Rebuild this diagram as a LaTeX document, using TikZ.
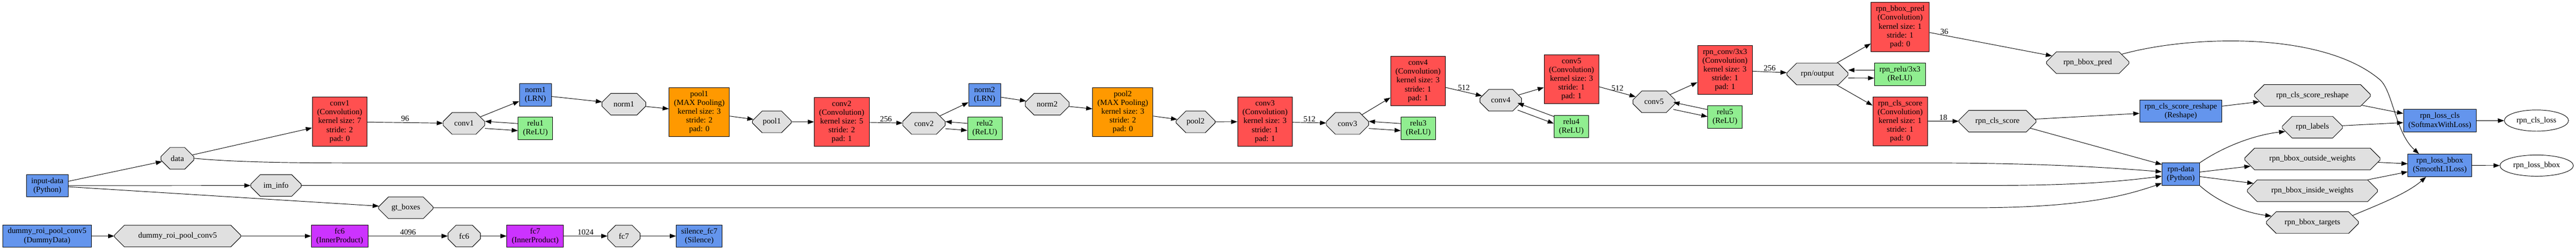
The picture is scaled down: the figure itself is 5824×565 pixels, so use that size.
\documentclass[tikz,border=0pt]{standalone}
\usepackage{fontspec}
\setmainfont{Liberation Serif}
\usetikzlibrary{arrows.meta,shapes.misc,shapes.geometric,calc}

\definecolor{layerblue}{HTML}{6495ED}
\definecolor{convred}{HTML}{FF5050}
\definecolor{poolorange}{HTML}{FF9900}
\definecolor{relugreen}{HTML}{90EE90}
\definecolor{fcpurple}{HTML}{CC33FF}
\definecolor{blobgray}{HTML}{E0E0E0}

\tikzset{
	every node/.style={font=\fontsize{18}{20}\selectfont, align=center, line width=1.1pt},
	layer/.style={draw, rectangle, fill=layerblue, minimum width=72pt, minimum height=51pt, inner xsep=11pt, inner ysep=0pt},
	conv/.style={layer, fill=convred, minimum height=111pt},
	pool/.style={conv, fill=poolorange},
	relu/.style={layer, fill=relugreen},
	fc/.style={layer, fill=fcpurple},
	blob/.style={draw, chamfered rectangle, fill=blobgray, inner sep=0pt, minimum width=#1pt, minimum height=49pt, chamfered rectangle xsep=0.293*#1pt, chamfered rectangle ysep=14pt},
	bout/.style={draw, ellipse, fill=white, inner sep=0pt, minimum width=#1pt, minimum height=48pt},
	arr/.style={-{Triangle[length=14pt,width=10pt]}, line width=1.1pt},
	lbl/.style={inner sep=2pt}
}

\begin{document}
\begin{tikzpicture}[x=1pt, y=-1pt]
	\useasboundingbox (0,0) rectangle (5824,565);
	% input and dummy branch
	\node[layer] (indata) at (107, 420.5) {input-data\\(Python)};
	\node[blob=74] (data) at (401, 358.5) {data};
	\node[blob=114] (iminfo) at (624, 420) {im\_info};
	\node[blob=123] (gtboxes) at (917.5, 470.5) {gt\_boxes};
	\node[layer] (dummy) at (106.5, 534.5) {dummy\_roi\_pool\_conv5\\(DummyData)};
	\node[blob=285] (dummyb) at (401.5, 534.5) {dummy\_roi\_pool\_conv5};
	\node[fc] (fc6) at (768, 534.5) {fc6\\(InnerProduct)};
	\node[blob=73] (fc6b) at (1049.5, 534.5) {fc6};
	\node[fc] (fc7) at (1210, 534.5) {fc7\\(InnerProduct)};
	\node[blob=73] (fc7b) at (1410.5, 534.5) {fc7};
	\node[layer] (silence) at (1581, 534.5) {silence\_fc7\\(Silence)};
	% conv trunk
	\node[conv] (conv1) at (768, 275.5) {conv1\\(Convolution)\\kernel size: 7\\stride: 2\\pad: 0};
	\node[blob=94] (conv1b) at (1049, 279.5) {conv1};
	\node[layer] (norm1) at (1210.5, 214.5) {norm1\\(LRN)};
	\node[relu] (relu1) at (1210.5, 290.5) {relu1\\(ReLU)};
	\node[blob=99] (norm1b) at (1410.5, 236) {norm1};
	\node[pool] (pool1) at (1581, 253.5) {pool1\\(MAX Pooling)\\kernel size: 3\\stride: 2\\pad: 0};
	\node[blob=88] (pool1b) at (1745, 276) {pool1};
	\node[conv] (conv2) at (1903, 276) {conv2\\(Convolution)\\kernel size: 5\\stride: 2\\pad: 1};
	\node[blob=96] (conv2b) at (2089, 279.5) {conv2};
	\node[layer] (norm2) at (2226, 214.5) {norm2\\(LRN)};
	\node[relu] (relu2) at (2226.5, 290.5) {relu2\\(ReLU)};
	\node[blob=99] (norm2b) at (2367.5, 236) {norm2};
	\node[pool] (pool2) at (2538.5, 253.5) {pool2\\(MAX Pooling)\\kernel size: 3\\stride: 2\\pad: 0};
	\node[blob=88] (pool2b) at (2703, 276) {pool2};
	\node[conv] (conv3) at (2860, 275.5) {conv3\\(Convolution)\\kernel size: 3\\stride: 1\\pad: 1};
	\node[blob=95] (conv3b) at (3046.5, 279.5) {conv3};
	\node[conv] (conv4) at (3206, 183.5) {conv4\\(Convolution)\\kernel size: 3\\stride: 1\\pad: 1};
	\node[relu] (relu3) at (3206.5, 290.5) {relu3\\(ReLU)};
	\node[blob=94] (conv4b) at (3393, 227) {conv4};
	\node[conv] (conv5) at (3553, 179.5) {conv5\\(Convolution)\\kernel size: 3\\stride: 1\\pad: 1};
	\node[relu] (relu4) at (3552.5, 286.5) {relu4\\(ReLU)};
	\node[blob=95] (conv5b) at (3739.5, 230.5) {conv5};
	\node[conv] (rpnconv) at (3900, 158.5) {rpn\_conv/3x3\\(Convolution)\\kernel size: 3\\stride: 1\\pad: 1};
	\node[relu] (relu5) at (3900, 264.5) {relu5\\(ReLU)};
	% rpn head
	\node[blob=138] (rpnout) at (4109, 167.5) {rpn/output};
	\node[conv] (rpnbbox) at (4296, 61) {rpn\_bbox\_pred\\(Convolution)\\kernel size: 1\\stride: 1\\pad: 0};
	\node[relu] (rpnrelu) at (4295.5, 168) {rpn\_relu/3x3\\(ReLU)};
	\node[conv] (rpncls) at (4296, 274.5) {rpn\_cls\_score\\(Convolution)\\kernel size: 1\\stride: 1\\pad: 0};
	\node[blob=186] (rpnbboxb) at (4720, 142) {rpn\_bbox\_pred};
	\node[blob=174] (rpnclsb) at (4516, 274.5) {rpn\_cls\_score};
	\node[layer] (reshape) at (4930.5, 251.5) {rpn\_cls\_score\_reshape\\(Reshape)};
	\node[layer] (rpndata) at (4930.5, 394.5) {rpn-data\\(Python)};
	\node[blob=262] (reshapeb) at (5228, 216) {rpn\_cls\_score\_reshape};
	\node[blob=136] (labels) at (5228, 288) {rpn\_labels};
	\node[blob=306] (outw) at (5228, 360) {rpn\_bbox\_outside\_weights};
	\node[blob=294] (inw) at (5228, 432) {rpn\_bbox\_inside\_weights};
	\node[blob=208] (targets) at (5228, 504) {rpn\_bbox\_targets};
	\node[layer] (losscls) at (5516, 273.5) {rpn\_loss\_cls\\(SoftmaxWithLoss)};
	\node[layer] (lossbbox) at (5516, 374.5) {rpn\_loss\_bbox\\(SmoothL1Loss)};
	\node[bout=145] (clsloss) at (5734.5, 273) {rpn\_cls\_loss};
	\node[bout=166] (bboxloss) at (5735, 375) {rpn\_loss\_bbox};

	% input edges
	\draw[arr] (indata) -- (data);
	\draw[arr] (indata) -- (iminfo);
	\draw[arr] ($(indata.east)+(0,2.5)$) -- (gtboxes);
	\draw[arr] (data) -- (conv1);
	\draw[arr] (data.east) .. controls (520,366) and (620,369) .. (800,369) -- (4350,369) .. controls (4600,369) and (4750,378) .. ($(rpndata.west)+(0,-5.5)$);
	\draw[arr] (iminfo) -- (4500,420) .. controls (4700,420) and (4800,410) .. ($(rpndata.west)+(0,4.5)$);
	\draw[arr] (gtboxes) -- (4450,470.5) .. controls (4700,471) and (4800,445) .. ($(rpndata.west)+(0,20.5)$);
	\draw[arr] (dummy) -- (dummyb);
	\draw[arr] (dummyb) -- (fc6);
	\draw[arr] (fc6) -- node[lbl, above] {4096} (fc6b);
	\draw[arr] (fc6b) -- (fc7);
	\draw[arr] (fc7) -- node[lbl, above] {1024} (fc7b);
	\draw[arr] (fc7b) -- (silence);

	% trunk edges
	\draw[arr] (conv1) -- node[lbl, above] {96} (conv1b);
	\draw[arr] (conv1b) -- (norm1);
	\draw[arr, transform canvas={yshift=8pt}] (relu1) -- (conv1b);
	\draw[arr, transform canvas={yshift=-8pt}] (conv1b) -- (relu1);
	\draw[arr] (norm1) -- (norm1b);
	\draw[arr] (norm1b) -- (pool1);
	\draw[arr] (pool1) -- (pool1b);
	\draw[arr] (pool1b) -- (conv2);
	\draw[arr] (conv2) -- node[lbl, above] {256} (conv2b);
	\draw[arr] (conv2b) -- (norm2);
	\draw[arr, transform canvas={yshift=8pt}] (relu2) -- (conv2b);
	\draw[arr, transform canvas={yshift=-8pt}] (conv2b) -- (relu2);
	\draw[arr] (norm2) -- (norm2b);
	\draw[arr] (norm2b) -- (pool2);
	\draw[arr] (pool2) -- (pool2b);
	\draw[arr] (pool2b) -- (conv3);
	\draw[arr] (conv3) -- node[lbl, above] {512} (conv3b);
	\draw[arr] (conv3b) -- (conv4);
	\draw[arr, transform canvas={yshift=8pt}] (relu3) -- (conv3b);
	\draw[arr, transform canvas={yshift=-8pt}] (conv3b) -- (relu3);
	\draw[arr] (conv4) -- node[lbl, above] {512} (conv4b);
	\draw[arr] (conv4b) -- (conv5);
	\draw[arr, transform canvas={yshift=8pt}] (relu4) -- (conv4b);
	\draw[arr, transform canvas={yshift=-8pt}] (conv4b) -- (relu4);
	\draw[arr] (conv5) -- node[lbl, above] {512} (conv5b);
	\draw[arr] (conv5b) -- (rpnconv);
	\draw[arr, transform canvas={yshift=8pt}] (relu5) -- (conv5b);
	\draw[arr, transform canvas={yshift=-8pt}] (conv5b) -- (relu5);
	\draw[arr] (rpnconv) -- node[lbl, above] {256} (rpnout);

	% rpn edges
	\draw[arr] (rpnout) -- (rpnbbox);
	\draw[arr] (rpnout) -- (rpncls);
	\draw[arr, transform canvas={yshift=9pt}] (rpnrelu) -- (rpnout);
	\draw[arr, transform canvas={yshift=-9pt}] (rpnout) -- (rpnrelu);
	\draw[arr] (rpnbbox) -- node[lbl, above, pos=0.12] {36} (rpnbboxb);
	\draw[arr] (rpncls) -- node[lbl, above] {18} (rpnclsb);
	\draw[arr] (rpnclsb) -- (reshape);
	\draw[arr] (rpnclsb.-12) -- ($(rpndata.north west)+(0,4)$);
	\draw[arr] (reshape) -- (reshapeb);
	\draw[arr] (reshapeb) -- (losscls);
	\draw[arr] (labels) -- (losscls);
	\draw[arr] (rpndata.north east) .. controls (5030,330) and (5100,305) .. (labels.189);
	\draw[arr] (rpndata) -- (outw);
	\draw[arr] (rpndata) -- (inw);
	\draw[arr] (rpndata.south east) .. controls (5020,462) and (5080,482) .. (targets.171);
	\draw[arr] (outw) -- (lossbbox);
	\draw[arr] (inw) -- (lossbbox);
	\draw[arr] (targets.10) .. controls (5370,466) and (5440,440) .. (lossbbox.220);
	\draw[arr] (rpnbboxb.14) .. controls (4950,80) and (5250,70) .. (5380,180) .. controls (5410,205) and (5415,300) .. ($(lossbbox.north)+(-47,0)$);
	\draw[arr] (losscls) -- (clsloss);
	\draw[arr] (lossbbox) -- (bboxloss);
\end{tikzpicture}
\end{document}
